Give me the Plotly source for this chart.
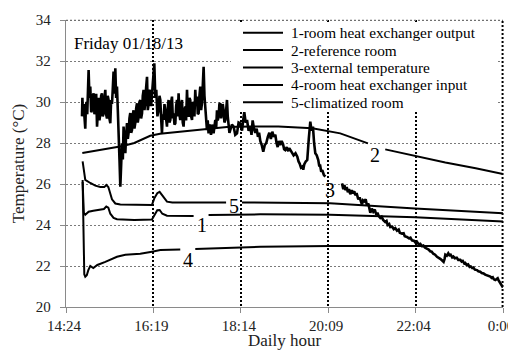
import plotly.graph_objects as go

# ---------------- data (x = minutes after 14:24) ----------------
tick_minutes = [0, 115.2, 230.4, 345.6, 460.8, 576]
tick_labels = ["14:24", "16:19", "18:14", "20:09", "22:04", "0:00"]
y_ticks = [20, 22, 24, 26, 28, 30, 32, 34]

legend_names = [
    "1-room heat exchanger output",
    "2-reference room",
    "3-external temperature",
    "4-room heat exchanger input",
    "5-climatized room",
]
curve_labels = ["1", "2", "3", "4", "5"]

# 1 - room heat exchanger output
hx_out_min = [21.9, 23.5, 25.4, 29.8, 36.0, 45.2, 50.0, 53.1, 55.8, 58.4, 62.7, 67.2, 90.0,
              113.3, 116.4, 120.3, 123.4, 127.0, 133.1, 150.0, 168.2, 178.0, 187.9, 229.6,
              256.0, 348.0, 460.0, 576.0]
hx_out_temp = [26.1, 24.6, 24.5, 24.65, 24.7, 24.75, 24.78, 24.9, 24.85, 24.55, 24.35, 24.28, 24.25,
               24.27, 24.5, 24.72, 24.73, 24.55, 24.45, 24.44, 24.44, None, 24.49, 24.52,
               24.52, 24.5, 24.38, 24.17]

# 2 - reference room
ref_min = [21.5, 35.0, 55.0, 75.0, 90.0, 100.0, 111.0, 124.0, 150.0, 177.0, 212.0, 243.0,
           280.0, 324.6, 361.5, 398.0, 410.0, 420.8, 460.0, 500.0, 540.0, 576.0]
ref_temp = [27.51, 27.6, 27.72, 27.85, 28.0, 28.15, 28.35, 28.45, 28.55, 28.68, 28.78, 28.8,
            28.8, 28.72, 28.47, 27.98, None, 27.69, 27.37, 27.05, 26.77, 26.49]

# 3 - external temperature
ext_min = [21.1, 21.6, 22.2, 23.2, 24.3, 25.4, 26.2, 27.0, 28.0, 29.0, 29.8, 30.9, 32.0, 33.2,
           34.3, 35.3, 36.4, 37.5, 38.6, 39.8, 40.9, 42.0, 43.0, 44.1, 45.2, 46.3, 47.4, 48.5,
           49.6, 50.7, 51.8, 52.9, 54.0, 55.0, 56.1, 57.2, 58.4, 59.5, 60.6, 61.6, 62.7, 63.9,
           65.0, 66.1, 67.2, 68.3, 69.3, 70.5, 71.6, 72.7, 73.8, 74.9, 75.9, 77.0, 78.2, 79.3,
           80.4, 81.5, 82.5, 83.6, 84.7, 85.9, 87.0, 88.0, 89.1, 90.2, 91.3, 92.5, 93.6, 94.6,
           95.7, 96.8, 97.9, 99.0, 100.2, 101.2, 102.3, 103.4, 104.5, 105.6, 106.8, 107.8, 108.9,
           110.0, 111.1, 112.2, 113.3, 114.8, 116.4, 117.7, 119.0, 120.5, 122.0, 123.2, 124.3,
           125.4, 126.5, 127.5, 128.6, 129.8, 130.9, 132.0, 133.1, 134.1, 135.2, 136.3, 137.5,
           138.6, 139.7, 140.8, 141.8, 143.0, 144.1, 145.2, 146.3, 147.3, 148.4, 149.5, 150.6,
           151.7, 152.9, 153.9, 155.0, 156.1, 157.2, 158.3, 159.5, 160.5, 161.6, 162.7, 163.8,
           164.9, 166.1, 167.1, 168.2, 169.3, 170.4, 171.5, 172.7, 173.7, 174.8, 175.9, 177.0,
           178.1, 179.2, 180.3, 181.4, 182.5, 183.6, 184.7, 185.8, 186.8, 187.9, 189.0, 190.2,
           191.1, 192.0, 193.2, 194.5, 195.6, 196.8, 197.9, 199.0, 200.0, 201.1, 202.2, 203.4,
           204.5, 205.6, 206.6, 207.7, 208.8, 210.0, 211.1, 212.2, 213.2, 214.3, 215.4, 216.5,
           218.7, 220.9, 223.1, 225.4, 227.5, 229.6,
           232.0, 233.5, 235.0, 236.8, 238.6, 240.7, 242.9, 244.5, 246.0, 247.8, 249.5, 251.3,
           253.0, 254.5, 256.1, 258.0, 260.0, 262.0, 264.0, 266.0, 268.0, 270.0, 271.9, 274.0,
           275.9, 277.5, 279.0, 280.7, 282.4, 284.2, 286.0, 287.5, 289.0, 291.0, 293.0, 294.3,
           295.6, 297.8, 300.0, 302.5, 304.9, 306.5, 308.0, 309.7, 311.4, 312.7, 314.0, 316.0,
           318.0, 320.0, 322.0, 323.7, 325.5, 327.0, 328.6, 330.5, 332.5, 333.7, 335.0, 336.4,
           337.8, 339.8, 341.8,
           352.0,
           363.8, 365.5, 367.0, 368.1, 370.0, 371.5, 373.0, 374.7, 376.5, 378.0, 380.0, 381.3,
           383.0, 385.3, 387.0, 388.5, 390.1, 391.5, 393.0, 395.0, 396.7, 398.5, 400.0, 401.1,
           403.0, 405.0, 407.0, 409.0, 410.5, 412.0, 414.3, 416.0, 418.0, 420.8, 422.5, 424.0,
           426.0, 427.4, 430.0, 432.0, 434.0, 436.3, 438.5, 440.0, 442.8, 445.0, 446.5, 449.4,
           452.0, 454.0, 456.0, 459.0, 461.0, 462.6, 465.0, 467.0, 469.0, 471.0, 473.0, 475.8,
           478.0, 480.0, 482.0, 484.1, 486.5, 489.0, 491.0, 493.3, 495.5, 497.7, 499.0, 500.0,
           502.0, 503.9, 505.5, 507.0, 509.0, 510.5, 512.5, 515.0, 517.0, 519.7, 521.5, 523.0,
           525.0, 526.3, 528.0, 530.0, 532.0, 533.5, 535.5, 537.0, 539.0, 541.7, 543.5, 546.0,
           548.0, 550.4, 552.5, 555.0, 557.0, 559.3, 561.0, 562.5, 564.0, 565.8, 567.5, 569.0,
           570.2, 572.0, 574.6, 576.0]
ext_temp = [29.3, 30.2, 29.6, 29.9, 29.2, 28.7, 29.8, 30.0, 29.4, 30.6, 31.56, 30.2, 30.75, 29.5,
            29.6, 30.3, 30.42, 29.4, 29.9, 30.4, 28.8, 29.7, 30.2, 29.1, 29.4, 30.3, 30.42, 29.3,
            29.45, 30.2, 30.59, 29.4, 29.2, 30.3, 30.1, 29.2, 28.96, 30.1, 29.9, 30.6, 31.48, 30.4,
            31.64, 30.2, 30.75, 29.6, 28.8, 27.2, 25.87, 27.0, 27.98, 27.2, 28.8, 28.1, 27.5, 28.4,
            28.97, 28.2, 28.49, 29.2, 29.46, 28.5, 28.63, 29.4, 29.6, 28.7, 28.97, 29.7, 29.94, 29.0,
            29.28, 30.0, 30.1, 29.2, 29.45, 30.3, 30.59, 29.6, 29.94, 30.7, 31.23, 29.6, 29.9,
            30.6, 30.42, 29.8, 30.26, 31.1, 31.89, 30.2, 30.59, 29.3, 29.6, 30.3, 30.1,
            29.2, 28.47, 29.4, 29.12, 29.9, 29.45, 28.9, 28.8, 29.7, 30.1, 29.0, 29.12,
            30.0, 30.26, 29.2, 29.45, 28.9, 28.96, 29.8, 30.1, 29.3, 30.42, 29.4, 29.12,
            29.9, 30.1, 29.0, 28.8, 29.6, 29.78, 29.1, 30.59, 29.6, 29.28, 30.2, 30.1,
            29.3, 29.12, 30.0, 29.94, 29.3, 30.59, 29.8, 30.26, 29.4, 29.45, 30.3, 30.75,
            29.6, 29.94, 30.8, 31.72, 30.3, 29.78, 28.9, 28.63, 29.1, 28.47, 28.9, 28.8,
            28.4, 28.55, 28.9, 28.47, 28.8, 29.12, 28.7, 29.6, 29.1, 29.28, 29.9, 29.94,
            29.2, 29.45, 29.9, 29.6, 29.0, 29.12, 29.7, 30.1, 29.3, 28.96, 28.5, 28.63,
            28.9, 28.8, 28.4, 28.47, 29.0, 28.96,
            28.6, 29.1, 29.5, 29.0, 29.12, 28.6, 28.8, 28.4, 29.1, 28.7, 28.5, 28.7,
            28.3, 28.5, 28.1, 27.9, 27.58, 27.9, 28.0, 28.3, 28.5, 28.2, 28.55, 28.3,
            28.4, 28.0, 27.8, 28.1, 27.9, 28.1, 27.95, 27.7, 27.66, 27.8, 27.6, 27.75,
            27.66, 27.5, 27.4, 27.5, 27.33, 27.1, 27.0, 26.8, 26.85, 26.7, 26.95, 27.1,
            27.17, 28.2, 29.04, 28.6, 28.8, 28.0, 27.5, 27.4, 27.17, 26.9, 26.9, 26.6,
            26.68, 26.45, 26.36,
            None,
            26.03, 25.75, 25.95, 25.7, 25.85, 25.6, 25.75, 25.5, 25.7, 25.55, 25.65, 25.45,
            25.55, 25.25, 25.35, 25.1, 25.0, 25.2, 25.15, 25.25, 24.95, 25.05, 24.7, 24.6,
            24.8, 24.65, 24.75, 24.5, 24.6, 24.45, 24.35, 24.4, 24.25, 24.15, 24.2, 24.0,
            24.05, 23.9, 23.92, 23.8, 23.85, 23.72, 23.78, 23.62, 23.58, 23.6, 23.45, 23.42,
            23.35, 23.38, 23.25, 23.22, 23.12, 23.18, 23.05, 23.08, 22.98, 23.0, 22.9, 22.86,
            22.8, 22.72, 22.7, 22.6, 22.55, 22.45, 22.42, 22.35, 22.28, 22.2, 22.35, 22.55,
            22.5, 22.62, 22.52, 22.55, 22.42, 22.46, 22.38, 22.4, 22.3, 22.3, 22.22, 22.25,
            22.12, 22.15, 22.05, 22.08, 21.96, 21.98, 21.9, 21.92, 21.82, 21.8, 21.74, 21.72,
            21.66, 21.64, 21.58, 21.55, 21.5, 21.48, 21.42, 21.45, 21.35, 21.32, 21.36, 21.4,
            21.3, 21.2, 21.07, 20.95]

# 4 - room heat exchanger input
hx_in_min = [21.9, 23.5, 24.1, 25.4, 27.4, 29.4, 32.0, 36.0, 41.3, 51.8, 67.2, 78.2, 97.9,
             113.3, 124.3, 150.6, 160.0, 170.4, 220.5, 256.1, 348.0, 460.0, 576.0]
hx_in_temp = [26.2, 23.0, 21.6, 21.48, 21.55, 21.8, 22.0, 21.9, 22.05, 22.2, 22.45, 22.55, 22.6,
              22.7, 22.78, 22.81, None, 22.83, 22.91, 22.94, 22.97, 22.98, 22.98]

# 5 - climatized room
clim_min = [21.9, 23.5, 25.4, 32.0, 38.6, 45.2, 50.5, 53.1, 55.8, 60.6, 65.0, 71.6, 97.9,
            113.3, 116.4, 120.3, 123.4, 126.9, 133.1, 140.1, 177.0, 211.0, 221.0, 232.0,
            348.0, 460.0, 576.0]
clim_temp = [27.1, 26.6, 26.2, 26.05, 25.92, 25.85, 25.85, 25.95, 25.85, 25.25, 25.05, 25.0, 24.97,
             24.98, 25.3, 25.55, 25.62, 25.45, 25.14, 25.1, 25.1, 25.1, None, 25.1,
             25.06, 24.8, 24.57]

# ---------------- geometry (page pixels -> paper); page has an 8px body margin ----------------
OFF = 8
W, H = 516 - OFF, 350 - OFF                 # figure fits exactly inside the window
PL, PR, PT, PB = 66, 503, 20, 307           # plot area on the page
PW, PH = PR - PL, PB - PT
ML, MT = PL - OFF, PT - OFF
MR, MB = W - (PR - OFF), H - (PB - OFF)


def px(xp):
    return (xp - PL) / PW


def py(yp):
    return (PB - yp) / PH


FONT = "Liberation Serif, Times New Roman, serif"

fig = go.Figure()
series = [
    (hx_out_min, hx_out_temp, 2.0),
    (ref_min, ref_temp, 2.0),
    (ext_min, ext_temp, 2.6),
    (hx_in_min, hx_in_temp, 2.0),
    (clim_min, clim_temp, 2.0),
]
for name, (xs, ys, lw) in zip(legend_names, series):
    fig.add_trace(go.Scatter(x=xs, y=ys, mode="lines", name=name, showlegend=False,
                             line=dict(color="black", width=lw), connectgaps=False))

shapes = []
annotations = []

# hand-made legend (white box, line samples, texts)
shapes.append(dict(type="rect", xref="paper", yref="paper", x0=px(231), x1=px(497),
                   y0=py(112), y1=py(24), fillcolor="white", line=dict(width=0), layer="above"))
for i, name in enumerate(legend_names):
    yy = py(32.7 + 17.4 * i)
    shapes.append(dict(type="line", xref="paper", yref="paper", x0=px(243), x1=px(283),
                       y0=yy, y1=yy, line=dict(color="black", width=2), layer="above"))
    annotations.append(dict(text=name, xref="paper", yref="paper", x=px(289), y=yy,
                            xanchor="left", yanchor="middle", showarrow=False,
                            font=dict(family=FONT, size=15.3, color="black")))

# frame: dotted top (34) and right (0:00) borders
shapes.append(dict(type="line", xref="paper", yref="paper", x0=0, x1=1, y0=0.999, y1=0.999,
                   line=dict(color="#707070", width=1.3, dash="2px,2px"), layer="above"))
shapes.append(dict(type="line", xref="paper", yref="paper", x0=0.999, x1=0.999, y0=0, y1=1,
                   line=dict(color="black", width=2, dash="2px,2px"), layer="above"))

annotations.append(dict(text="Friday 01/18/13", xref="paper", yref="paper", x=px(72), y=py(44),
                        xanchor="left", yanchor="middle", showarrow=False,
                        font=dict(family=FONT, size=17, color="black")))

# curve numbers
label_pos = [(179.9, 24.0), (407.7, 27.41), (348.3, 25.7), (161.3, 22.27), (220.8, 24.95)]
for lab, (lx, ly) in zip(curve_labels, label_pos):
    annotations.append(dict(text=lab, x=lx, y=ly, xref="x", yref="y", showarrow=False,
                            xanchor="center", yanchor="middle",
                            font=dict(family=FONT, size=20, color="black")))

fig.update_layout(
    width=W, height=H,
    margin=dict(l=ML, r=MR, t=MT, b=MB, pad=0),
    paper_bgcolor="white", plot_bgcolor="white",
    font=dict(family=FONT, size=15, color="#222"),
    shapes=shapes, annotations=annotations,
    xaxis=dict(range=[0, 576], tickvals=tick_minutes, ticktext=tick_labels,
               showgrid=True, gridcolor="black", gridwidth=2, griddash="2px,2px",
               showline=True, linecolor="#8a8a8a", linewidth=1.3,
               ticks="outside", ticklen=5, tickcolor="#8a8a8a", tickwidth=1.3,
               zeroline=False, automargin=False, ticklabeloverflow="allow",
               ticklabelshift=-2,
               tickfont=dict(family=FONT, size=15, color="#222"),
               title=dict(text="Daily hour", font=dict(family=FONT, size=17, color="#222"),
                          standoff=0)),
    yaxis=dict(range=[20, 34], tickvals=y_ticks,
               showgrid=True, gridcolor="#7a7a7a", gridwidth=1.3, griddash="2px,2px",
               showline=True, linecolor="#8a8a8a", linewidth=1.3,
               ticks="outside", ticklen=5, tickcolor="#8a8a8a", tickwidth=1.3,
               zeroline=False, automargin=False, ticklabelstandoff=6,
               tickfont=dict(family=FONT, size=15, color="#222"),
               title=dict(text="Temperature (°C)", font=dict(family=FONT, size=17, color="#222"),
                          standoff=6)),
)

fig.write_html("out.html")
